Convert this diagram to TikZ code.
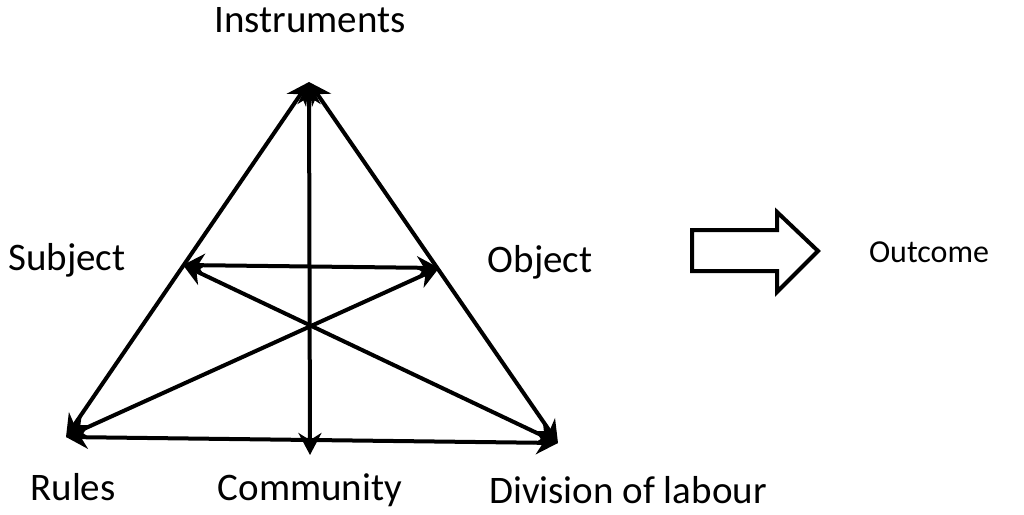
\documentclass[tikz,border=0pt]{standalone}
\usepackage{fontspec}
\setmainfont{Carlito}
\usetikzlibrary{arrows.meta}
\begin{document}
\begin{tikzpicture}[x=1pt,y=-1pt,
  edge/.style={line width=4pt,{Stealth[length=22pt,width=23pt]}-{Stealth[length=22pt,width=23pt]}},
  lbl/.style={font=\fontsize{39}{44}\selectfont,inner sep=0pt}]
\useasboundingbox (0,0) rectangle (1024,514);
\coordinate (T) at (309,82);
\coordinate (L) at (66,437);
\coordinate (R) at (558,443);
\coordinate (S) at (183,265);
\coordinate (O) at (439,268);
\coordinate (C) at (310,455);
% triangle sides
\draw[edge] (T) -- (L);
\draw[edge] (T) -- (R);
\draw[edge] (L) -- (R);
% inner connectors
\draw[edge] (T) -- (C);
\draw[edge] (S) -- (O);
\draw[edge] (S) -- (R);
\draw[edge] (O) -- (L);
% labels
\node[lbl] (instr) at (310,20) {Instruments};
\node[lbl] (subj) at (67,260) {Subject};
\node[lbl] (obj) at (540,262) {Object};
\node[lbl,font=\fontsize{32}{38}\selectfont] (out) at (929,252) {Outcome};
\node[lbl] (rules) at (73,487) {Rules};
\node[lbl] (comm) at (310,490) {Community};
\node[lbl] (div) at (628,490) {Division of labour};
% block arrow
\draw[line width=4pt,line join=miter] (692,230) -- (777,230) -- (777,212) -- (818,251) -- (777,292) -- (777,271) -- (692,271) -- cycle;
\end{tikzpicture}
\end{document}
